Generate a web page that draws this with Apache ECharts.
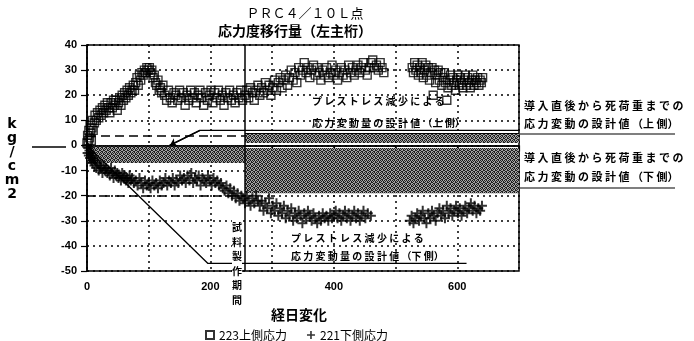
<!DOCTYPE html>
<html>
<head>
<meta charset="utf-8">
<script src="https://cdn.jsdelivr.net/npm/echarts@6/dist/echarts.min.js"></script>
<style>
  html, body { margin: 0; padding: 0; background: #fff; }
  #main { width: 694px; height: 341px; }
</style>
</head>
<body>
<div id="main"></div>
<script>
// 223 upper stress (squares): [day, kg/cm2]
const upperStress = [
  [0,1],[1,4],[2,2],[3,6],[4,3],[5,8],[6,5],[7,2],[8,7],[9,10],[10,6],[12,9],[13,12],[15,10],[17,13],[19,11],
  [21,14],[23,12],[25,15],[27,13],[29,16],[31,14],[33,17],[35,15],[37,13],[39,17],[41,15],[43,18],[45,16],[47,18],[49,14],
  [51,17],[53,19],[55,16],[57,20],[59,18],[61,21],[63,19],[65,22],[67,20],[69,23],[71,21],[73,22],
  [75,24],[77,22],[79,25],[81,27],[83,24],[85,28],[87,26],[89,29],[91,28],[93,30],[95,29],[97,31],[99,30],[101,31],
  [103,29],[105,30],[107,27],[109,28],[111,25],[113,24],[115,26],[117,22],[119,23],[121,21],[123,24],
  [126,20],[129,18],[132,22],[135,19],[138,17],[141,21],[144,20],[147,18],[150,22],[153,19],[156,21],[159,16],
  [162,20],[165,18],[168,22],[171,19],[174,21],[177,17],[180,20],[183,22],[186,19],[189,16],[192,21],[195,18],
  [198,20],[201,22],[204,17],[207,21],[210,19],[213,22],[216,18],[219,20],[222,16],[225,21],[228,19],[231,22],
  [234,18],[237,20],[240,17],[243,21],[246,19],[249,22],[252,18],
  [256,20],[259,22],[262,19],[265,23],[268,21],[271,18],[274,22],[277,24],[280,20],[283,23],[286,21],[289,25],
  [292,22],[295,24],[298,20],[301,23],[304,26],[307,22],[310,25],[313,27],[316,23],[319,26],
  [322,28],[325,24],[328,27],[331,30],[334,26],[337,29],[340,25],[343,31],[346,28],[349,30],[352,33],[355,29],
  [358,31],[361,27],[364,30],[367,32],[370,28],[373,31],[376,29],[379,26],
  [382,30],[385,28],[388,31],[391,27],[394,29],[397,32],[400,28],[403,30],[406,26],[409,29],[412,31],[415,28],
  [418,30],[421,27],[424,32],[427,29],[430,31],[433,28],[436,30],[439,32],[442,29],[445,31],[448,33],[451,30],
  [454,28],[457,31],[460,33],[463,34],[466,31],[469,32],[472,30],[475,33],[478,31],[481,29],
  [527,31],[529,29],[531,33],[533,30],[535,32],[537,28],[539,31],[541,29],[543,33],[545,27],[547,30],[549,32],
  [551,28],[553,31],[555,26],[557,29],[559,31],[561,20],[563,30],[565,25],[567,28],[569,30],[571,26],[573,29],
  [575,24],[577,27],[579,29],[581,25],[583,18],[585,23],[587,26],[589,28],[591,24],[593,27],[595,25],[597,22],
  [599,26],[601,28],[603,24],[605,27],[607,25],[609,23],[611,26],[613,28],[615,24],[617,27],[619,25],[621,23],
  [623,26],[625,28],[627,24],[629,26],[631,25],[633,27],[635,24],[637,26],[639,25],[641,27]
];

// 221 lower stress (plus marks): [day, kg/cm2]
const lowerStress = [
  [0,0],[1,-3],[2,-1],[3,-4],[4,-2],[5,-5],[6,-3],[7,-6],[8,-4],[9,-7],[10,-5],[12,-8],[13,-6],[15,-9],[17,-7],
  [19,-10],[21,-8],[23,-9],[25,-11],[27,-8],[29,-10],
  [31,-9],[33,-11],[35,-10],[37,-12],[39,-9],[41,-11],[43,-13],[45,-10],[47,-12],[49,-11],[51,-13],[53,-12],
  [55,-14],[57,-11],[59,-13],[61,-12],[63,-14],[65,-13],[67,-15],[69,-12],[71,-14],[73,-13],
  [76,-15],[79,-14],[82,-16],[85,-13],[88,-15],[91,-17],[94,-14],[97,-16],[100,-15],[103,-17],[106,-14],[109,-16],
  [112,-15],[115,-17],[118,-14],[121,-16],[124,-15],[127,-13],[130,-16],[133,-14],[136,-15],[139,-13],[142,-16],
  [145,-14],[148,-15],
  [151,-12],[154,-14],[157,-13],[160,-15],[163,-12],[166,-14],[169,-11],[172,-15],[175,-13],[178,-14],[181,-12],
  [184,-16],[187,-13],[190,-14],[193,-15],[196,-12],[199,-14],[202,-16],[205,-13],[208,-15],[211,-14],[214,-16],
  [217,-15],[220,-17],
  [223,-18],[226,-16],[229,-19],[232,-17],[235,-20],[238,-18],[241,-21],[244,-19],[247,-22],[250,-20],[253,-21],
  [256,-23],[259,-20],[262,-22],[265,-24],[268,-21],[271,-23],[274,-20],[277,-22],
  [280,-24],[283,-22],[286,-26],[289,-23],[292,-25],[295,-21],[298,-27],[301,-24],[304,-26],[307,-23],[310,-28],
  [313,-25],[316,-27],[319,-24],[322,-29],[325,-26],[328,-28],[331,-25],[334,-30],[337,-27],[340,-29],[343,-26],
  [346,-28],[349,-31],[352,-27],[355,-29],[358,-26],[361,-28],[364,-30],[367,-27],[370,-29],[373,-31],[376,-28],
  [379,-30],[382,-27],[385,-29],[388,-28],[391,-30],[394,-27],[397,-29],[400,-28],
  [403,-26],[406,-29],[409,-27],[412,-30],[415,-28],[418,-26],[421,-29],[424,-27],[427,-30],[430,-28],[433,-26],
  [436,-29],[439,-27],[442,-30],[445,-28],[448,-26],[451,-29],[455,-27],[460,-28],
  [523,-30],[526,-28],[529,-31],[532,-29],[535,-27],[538,-30],[541,-28],[544,-26],[547,-29],[550,-31],[553,-27],
  [556,-29],[559,-26],[562,-28],[565,-30],[568,-27],[571,-25],[574,-28],[577,-26],[580,-29],[583,-24],[586,-27],
  [589,-25],[592,-28],[595,-26],[598,-24],[601,-27],[604,-25],[607,-28],[610,-26],[613,-24],[616,-27],[619,-25],
  [622,-23],[625,-26],[628,-24],[631,-27],[634,-25],[637,-26],[640,-24]
];

// design lines (day, value)
const lowerDesignLine = [[0,0],[196,-47],[615,-47]];
const upperLeaderLine = [[700,6],[183,6],[134,0]];
const startDay = 256;

const yTicks = [40,30,20,10,0,-10,-20,-30,-40,-50];
const xLabels = [0,200,400,600];

// gray speckled fill like the scanned band
function speckle() {
  const c = document.createElement('canvas');
  c.width = 4; c.height = 4;
  const ctx = c.getContext('2d');
  ctx.fillStyle = '#a4a4a4';
  ctx.fillRect(0, 0, 4, 4);
  ctx.fillStyle = '#202020';
  const bits = [1,0,1,0, 0,1,0,1, 1,0,0,1, 0,1,1,0];
  bits.forEach((b, i) => { if (b) ctx.fillRect(i % 4, Math.floor(i / 4), 1, 1); });
  return { image: c, repeat: 'repeat' };
}

const chart = echarts.init(document.getElementById('main'));
const black = '#000';
const labelFont = { color: black, fontFamily: 'Liberation Sans', fontWeight: 'bold', fontSize: 11 };

const option = {
  animation: false,
  backgroundColor: '#fff',
  grid: { left: 87, right: 175, top: 45, bottom: 70, show: true, borderColor: black, borderWidth: 1.5 },
  xAxis: {
    type: 'value', min: 0, max: 700, interval: 100,
    axisLine: { lineStyle: { color: black, width: 1.5 } },
    axisTick: { length: 6, lineStyle: { color: black, width: 1.2 } },
    axisLabel: Object.assign({ margin: 10, formatter: v => (xLabels.includes(v) ? String(v) : '') }, labelFont),
    splitLine: { lineStyle: { color: black, type: [2, 4], width: 1.5 } }
  },
  yAxis: {
    type: 'value', min: -50, max: 40, interval: 10,
    axisLine: { show: true, lineStyle: { color: black, width: 1.5 } },
    axisTick: { show: true, length: 6, lineStyle: { color: black, width: 1.2 } },
    axisLabel: Object.assign({ margin: 10, formatter: v => (yTicks.includes(v) ? String(v) : '') }, labelFont),
    splitLine: { lineStyle: { color: black, type: [2, 4], width: 1.5 } }
  },
  legend: {
    left: 200, top: 324, itemWidth: 8, itemHeight: 8, itemGap: 20,
    textStyle: { color: black, fontSize: 12, fontFamily: 'Noto Sans CJK JP' },
    data: ['223上側応力', '221下側応力']
  },
  series: [
    {
      name: 'bands', type: 'line', data: [], silent: true, z: 1,
      markArea: {
        silent: true,
        itemStyle: { color: speckle(), opacity: 1 },
        data: [
          [{ coord: [0, 0] }, { coord: [startDay, -7] }],
          [{ coord: [startDay, 5] }, { coord: [700, 1] }],
          [{ coord: [startDay, -1] }, { coord: [700, -19] }]
        ]
      },
      markLine: {
        silent: true, symbol: 'none', label: { show: false },
        lineStyle: { color: black, width: 1.5, type: 'solid' },
        data: [
          { yAxis: 0 },
          [{ coord: [startDay, 40] }, { coord: [startDay, -50] }],
          [{ coord: [0, 4], lineStyle: { type: [9, 5] } }, { coord: [startDay, 4] }],
          [{ coord: [0, -20], lineStyle: { type: [9, 5] } }, { coord: [startDay, -20] }],
          [{ coord: [startDay, 5], lineStyle: { width: 1 } }, { coord: [700, 5] }]
        ]
      }
    },
    {
      name: 'lowerDesign', type: 'line', data: lowerDesignLine, symbol: 'none', z: 3,
      lineStyle: { color: black, width: 1.3 }, silent: true
    },
    {
      name: 'upperLeader', type: 'line', data: upperLeaderLine, symbol: 'none', z: 3,
      lineStyle: { color: black, width: 1.3 }, silent: true,
      markLine: {
        silent: true, symbol: ['none', 'arrow'], symbolSize: 7, label: { show: false },
        lineStyle: { color: black, width: 1.3, type: 'solid' },
        data: [[{ coord: upperLeaderLine[1] }, { coord: upperLeaderLine[2] }]]
      }
    },
    {
      name: '223上側応力', type: 'scatter', data: upperStress, z: 5,
      symbol: 'rect', symbolSize: 8,
      itemStyle: { color: 'rgba(255,255,255,0)', borderColor: black, borderWidth: 1.4 }
    },
    {
      name: '221下側応力', type: 'scatter', data: lowerStress, z: 5,
      symbol: 'path://M4,0H6V10H4ZM0,4H10V6H0Z', symbolSize: 10,
      itemStyle: { color: black }
    }
  ],
  graphic: [
    { type: 'text', x: 305, y: 13, style: { text: 'ＰＲＣ４／１０Ｌ点', fill: black, font: '13px "Noto Sans CJK JP"', align: 'center', verticalAlign: 'middle' } },
    { type: 'text', x: 295, y: 31, style: { text: '応力度移行量（左主桁）', fill: black, font: 'bold 14px "Noto Sans CJK JP"', align: 'center', verticalAlign: 'middle' } },
    { type: 'text', x: 12, y: 117, style: { text: 'k\ng\n/\nc\nm\n2', fill: black, font: 'bold 14px "DejaVu Sans"', lineHeight: 14, align: 'center' } },
    { type: 'line', shape: { x1: 32, y1: 147, x2: 66, y2: 147 }, style: { stroke: black, lineWidth: 1.5 } },
    { type: 'text', x: 299, y: 315, style: { text: '経日変化', fill: black, font: 'bold 14px "Noto Sans CJK JP"', align: 'center', verticalAlign: 'middle' } },
    { type: 'text', x: 312, y: 101, style: { text: 'プ レ ス ト レ ス 減 少 に よ る', fill: black, font: 'bold 10px "Noto Sans CJK JP"', verticalAlign: 'middle' } },
    { type: 'text', x: 312, y: 123, style: { text: '応 力 変 動 量 の 設 計 値 （上 側）', fill: black, font: 'bold 10px "Noto Sans CJK JP"', verticalAlign: 'middle' } },
    { type: 'text', x: 291, y: 238, style: { text: 'プ レ ス ト レ ス 減 少 に よ る', fill: black, font: 'bold 10px "Noto Sans CJK JP"', verticalAlign: 'middle' } },
    { type: 'text', x: 291, y: 256, style: { text: '応 力 変 動 量 の 設 計 値 （下 側）', fill: black, font: 'bold 10px "Noto Sans CJK JP"', verticalAlign: 'middle' } },
    { type: 'text', x: 237, y: 220, z: 10, style: { text: '試\n料\n製\n作\n期\n間', fill: black, backgroundColor: '#fff', font: 'bold 10px "Noto Sans CJK JP"', lineHeight: 14.5, align: 'center' } },
    { type: 'text', x: 524, y: 106, style: { text: '導 入 直 後 か ら 死 荷 重 ま で の', fill: black, font: 'bold 11px "Noto Sans CJK JP"', verticalAlign: 'middle' } },
    { type: 'text', x: 524, y: 124, style: { text: '応 力 変 動 の 設 計 値 （上 側）', fill: black, font: 'bold 11px "Noto Sans CJK JP"', verticalAlign: 'middle' } },
    { type: 'line', shape: { x1: 520, y1: 134, x2: 675, y2: 134 }, style: { stroke: black, lineWidth: 1.2 } },
    { type: 'text', x: 524, y: 158, style: { text: '導 入 直 後 か ら 死 荷 重 ま で の', fill: black, font: 'bold 11px "Noto Sans CJK JP"', verticalAlign: 'middle' } },
    { type: 'text', x: 524, y: 177, style: { text: '応 力 変 動 の 設 計 値 （下 側）', fill: black, font: 'bold 11px "Noto Sans CJK JP"', verticalAlign: 'middle' } },
    { type: 'line', shape: { x1: 520, y1: 188, x2: 675, y2: 188 }, style: { stroke: black, lineWidth: 1.2 } }
  ]
};

chart.setOption(option);
</script>
</body>
</html>
